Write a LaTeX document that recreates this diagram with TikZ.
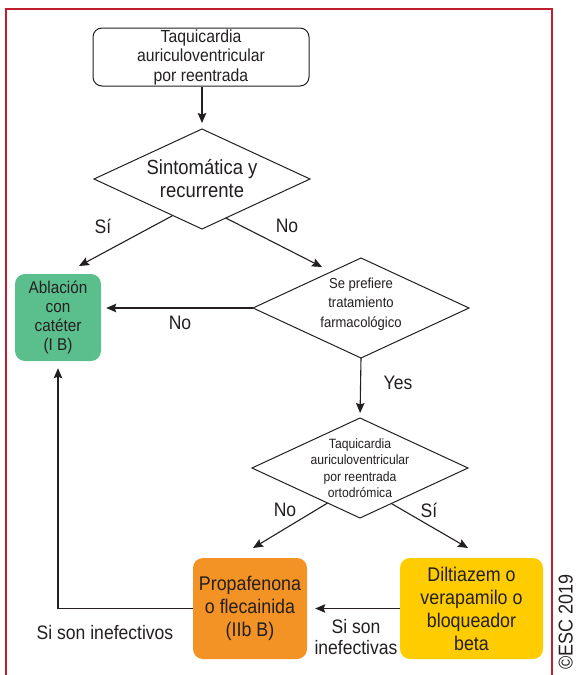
\documentclass[tikz,border=0pt]{standalone}
\usepackage{fontspec}
\setmainfont[FakeStretch=0.9]{Liberation Sans}
\usetikzlibrary{shapes.geometric,arrows.meta,calc}

\definecolor{framered}{HTML}{BE1E2D}
\definecolor{ink}{HTML}{231F20}
\definecolor{ablgreen}{HTML}{5BBF8D}
\definecolor{drugorange}{HTML}{F39325}
\definecolor{drugyellow}{HTML}{FFCC00}

\newcommand{\fsStart}{\fontsize{17.5}{19.5}\selectfont}
\newcommand{\fsDecA}{\fontsize{20.5}{23}\selectfont}
\newcommand{\fsDecB}{\fontsize{14.5}{19.5}\selectfont}
\newcommand{\fsDecC}{\fontsize{13.5}{16.5}\selectfont}
\newcommand{\fsAbl}{\fontsize{17}{19}\selectfont}
\newcommand{\fsDrug}{\fontsize{19.8}{23}\selectfont}
\newcommand{\fsLabel}{\fontsize{19.5}{21.5}\selectfont}

\tikzset{
  flow/.style={draw=ink, line width=1.1pt,
    -{Stealth[length=10pt,width=8.5pt,inset=1.5pt]}},
  txt/.style={text=ink, align=center, inner sep=0pt},
  startbox/.style={draw=ink, line width=1pt, rounded corners=9pt,
    minimum width=216pt, minimum height=58pt, inner sep=0pt,
    align=center, text=ink, font=\fsStart},
  decision/.style={diamond, draw=ink, line width=1pt,
    minimum width=216pt, minimum height=100pt, inner sep=0pt, outer sep=0pt},
  colbox/.style={rounded corners=10pt, inner sep=0pt, align=center, text=ink},
  edgelabel/.style={txt, font=\fsLabel},
}

\begin{document}
\begin{tikzpicture}[x=1pt, y=-1pt]
  \useasboundingbox (0,0) rectangle (577,675);

  % outer frame, open at the bottom
  \draw[framered, line width=2.5pt] (6,690) -- (6,9) -- (552,9) -- (552,690);

  % nodes
  \node[startbox] (start) at (201,57) {Taquicardia\\auriculoventricular\\por reentrada};

  \node[decision] (d1) at (202,179) {};
  \node[txt, font=\fsDecA] (d1t) at (d1) {Sintomática y\\recurrente};

  \node[colbox, fill=ablgreen, minimum width=86pt, minimum height=87pt,
        font=\fsAbl] (abl) at (58,317.5) {Ablación\\con\\catéter\\(I B)};

  \node[decision] (d2) at (361,308) {};
  \node[txt, font=\fsDecB] (d2t) at (361,304) {Se prefiere\\tratamiento\\farmacológico};

  \node[decision] (d3) at (360,468) {};
  \node[txt, font=\fsDecC] (d3t) at (d3) {Taquicardia\\auriculoventricular\\por reentrada\\ortodrómica};

  \node[colbox, fill=drugorange, minimum width=114pt, minimum height=101pt,
        font=\fsDrug] (prop) at (250,608.5) {Propafenona\\o flecainida\\(IIb B)};

  \node[colbox, fill=drugyellow, minimum width=143pt, minimum height=101pt,
        font=\fsDrug] (dil) at (471.5,608.5) {Diltiazem o\\verapamilo o\\bloqueador\\beta};

  % free arrow ends
  \coordinate (siEnd) at (79,266);
  \coordinate (noEnd) at (322,267);
  \coordinate (noEndB) at (253,548);
  \coordinate (siEndB) at (468,548);

  % connectors
  \draw[flow, shorten >=6pt] (start.south -| d1.north) -- (d1.north);
  \draw[flow] ($(d1.west)!0.73!(d1.south)$) -- (siEnd);
  \draw[flow] ($(d1.south)!0.22!(d1.east)$) -- (noEnd);
  \draw[flow, shorten >=5pt] (d2.west) -- (d2.west -| abl.east);
  \draw[flow, shorten >=5pt] (d2.south) -- (d3.north);
  \draw[flow] ($(d3.west)!0.70!(d3.south)$) -- (noEndB);
  \draw[flow] ($(d3.south)!0.29!(d3.east)$) -- (siEndB);
  \draw[flow, shorten >=8pt] (dil.west) -- (prop.east);
  \draw[flow, shorten >=7pt] (prop.west) -- (prop.west -| abl.south) -- (abl.south);

  % branch labels
  \node[edgelabel] (lSiA) at (103,226) {Sí};
  \node[edgelabel] (lNoA) at (287,226) {No};
  \node[edgelabel] (lNoB) at (180,323) {No};
  \node[edgelabel] (lYes) at (398,383) {Yes};
  \node[edgelabel] (lNoC) at (285,510) {No};
  \node[edgelabel] (lSiC) at (429,510) {Sí};
  \node[edgelabel] (lIneffA) at (105,633) {Si son inefectivos};
  \node[edgelabel] (lIneffB) at (356,637) {Si son\\inefectivas};

  % copyright line, set vertically
  \node[txt, rotate=90, anchor=base east, font=\fontsize{20}{22}\selectfont]
    (copy) at (572.5,574) {©ESC 2019};
\end{tikzpicture}
\end{document}
